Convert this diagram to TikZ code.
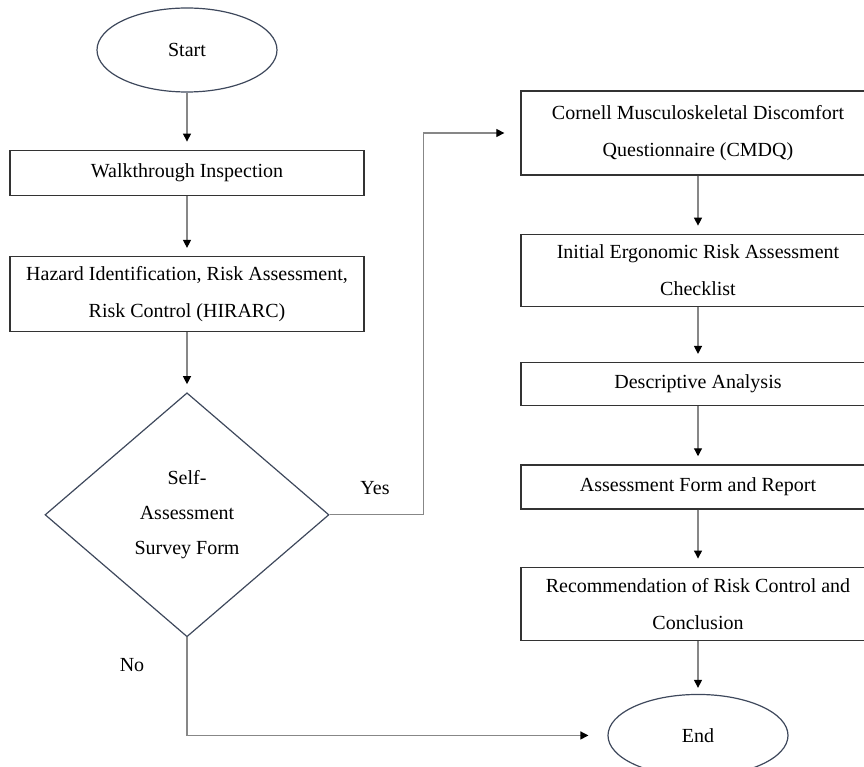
\documentclass[tikz,border=0pt]{standalone}
\usepackage{fontspec}
\setmainfont{Liberation Serif}
\usetikzlibrary{positioning, shapes.geometric, arrows.meta}
\definecolor{shapeedge}{RGB}{62,72,92}
\definecolor{linkgray}{RGB}{135,135,135}

\begin{document}
\begin{tikzpicture}[
    x=1pt, y=-1pt,
    font=\fontsize{20}{37}\selectfont,
    % Define custom styles for the flow
    stepbox/.style={
        draw=black!80,
        line width=1.3pt,
        rectangle,
        minimum width=354pt,
        align=center
    },
    terminal/.style={
        draw=shapeedge,
        line width=1.2pt,
        ellipse,
        minimum width=180pt,
        minimum height=84pt
    },
    decision/.style={
        draw=shapeedge,
        line width=1.2pt,
        diamond,
        inner sep=0pt,
        minimum width=284pt,
        minimum height=244pt,
        align=center,
        font=\fontsize{20}{35}\selectfont
    },
    link/.style={
        draw=linkgray,
        line width=1.2pt,
        -{Triangle[length=8pt,width=8pt,black]},
        shorten >=8pt
    }
]
\useasboundingbox (0,0) rectangle (864,767);

% Left column
\node[terminal] (start) at (187,50) {Start};
\node[stepbox, minimum height=45pt, below=57pt of start] (walk) {Walkthrough Inspection};
\node[stepbox, minimum height=75pt, below=60pt of walk] (hirarc) {Hazard Identification, Risk Assessment,\\Risk Control (HIRARC)};
\node[decision, below=60pt of hirarc] (survey) {Self-\\Assessment\\Survey Form};

% Right column
\node[stepbox, minimum height=84pt] (cmdq) at (698,133) {Cornell Musculoskeletal Discomfort\\Questionnaire (CMDQ)};
\node[stepbox, minimum height=72pt, below=58pt of cmdq] (checklist) {Initial Ergonomic Risk Assessment\\Checklist};
\node[stepbox, minimum height=43pt, below=55pt of checklist] (analysis) {Descriptive Analysis};
\node[stepbox, minimum height=44pt, below=58pt of analysis] (report) {Assessment Form and Report};
\node[stepbox, minimum height=73pt, below=57pt of report] (recommend) {Recommendation of Risk Control and\\Conclusion};
\node[terminal, minimum height=82pt, below=53pt of recommend] (end) {End};

% Branch labels
\node (yes) at (375,488) {Yes};
\node (no) at (132,665) {No};

% Connectors
\draw[link] (start) -- (walk);
\draw[link] (walk) -- (hirarc);
\draw[link] (hirarc) -- (survey);
\draw[link, shorten >=16pt] (survey.east) -- ++(94,0) |- (cmdq.west);
\draw[link, shorten >=19pt] (survey.south) |- (end.west);
\draw[link] (cmdq) -- (checklist);
\draw[link] (checklist) -- (analysis);
\draw[link] (analysis) -- (report);
\draw[link] (report) -- (recommend);
\draw[link, shorten >=6pt] (recommend) -- (end);

\end{tikzpicture}
\end{document}
